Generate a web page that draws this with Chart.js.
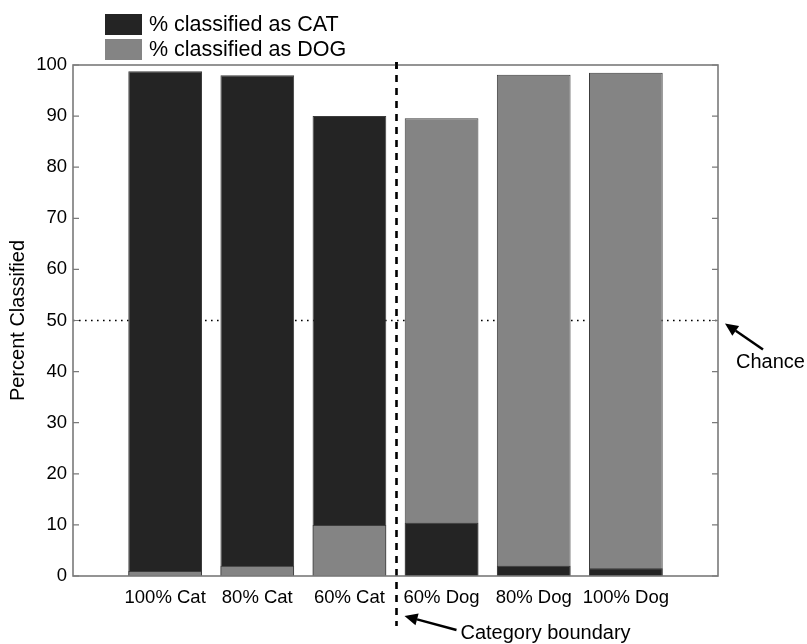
<!DOCTYPE html>
<html>
<head>
<meta charset="utf-8">
<script src="https://cdn.jsdelivr.net/npm/chart.js@4/dist/chart.umd.min.js"></script>
<style>
  html, body { margin: 0; padding: 0; background: #fff; }
  #wrap { width: 807px; height: 644px; position: relative; }
</style>
</head>
<body>
<div id="wrap"><canvas id="c" width="807" height="644"></canvas></div>
<script>
const categories = ['100% Cat', '80% Cat', '60% Cat', '60% Dog', '80% Dog', '100% Dog'];
const catPct = [98.8, 98.0, 90.0, 10.4, 2.0, 1.5];
const dogPct = [1.0, 2.0, 10.0, 89.6, 98.1, 98.5];
const yTicks = [0, 10, 20, 30, 40, 50, 60, 70, 80, 90, 100];
const seriesLabels = ['% classified as CAT', '% classified as DOG'];
const chanceLevel = 50;
const boundaryPos = 3.5;

const CAT_COLOR = '#242424';
const DOG_COLOR = '#848484';
const FONT = "'Liberation Sans', Arial, Helvetica, sans-serif";

function pts(values, other, front) {
  const out = [];
  values.forEach((v, i) => {
    const isFront = v < other[i];
    if (isFront === front) out.push({ x: i + 1, y: v });
  });
  return out;
}

const datasets = [
  { label: seriesLabels[0], data: pts(catPct, dogPct, false), backgroundColor: CAT_COLOR, order: 1 },
  { label: seriesLabels[1], data: pts(dogPct, catPct, false), backgroundColor: DOG_COLOR, order: 1 },
  { label: seriesLabels[0], data: pts(catPct, dogPct, true), backgroundColor: CAT_COLOR, order: 0 },
  { label: seriesLabels[1], data: pts(dogPct, catPct, true), backgroundColor: DOG_COLOR, order: 0 }
].map(d => Object.assign(d, {
  grouped: false,
  borderColor: '#3c3c3c',
  borderWidth: 1,
  barPercentage: 0.8,
  categoryPercentage: 1.0
}));

function arrow(ctx, x1, y1, x2, y2) {
  const ang = Math.atan2(y2 - y1, x2 - x1);
  const hl = 13, hw = 6;
  const bx = x2 - hl * Math.cos(ang), by = y2 - hl * Math.sin(ang);
  ctx.save();
  ctx.strokeStyle = '#000';
  ctx.fillStyle = '#000';
  ctx.lineWidth = 2.5;
  ctx.setLineDash([]);
  ctx.beginPath();
  ctx.moveTo(x1, y1);
  ctx.lineTo(bx, by);
  ctx.stroke();
  ctx.beginPath();
  ctx.moveTo(x2, y2);
  ctx.lineTo(bx + hw * Math.sin(ang), by - hw * Math.cos(ang));
  ctx.lineTo(bx - hw * Math.sin(ang), by + hw * Math.cos(ang));
  ctx.closePath();
  ctx.fill();
  ctx.restore();
}

const decor = {
  id: 'decor',
  beforeDatasetsDraw(chart) {
    const { ctx, chartArea: a, scales: { x, y } } = chart;
    ctx.save();
    const yc = y.getPixelForValue(chanceLevel);
    ctx.strokeStyle = '#000';
    ctx.lineWidth = 1.6;
    ctx.setLineDash([1.6, 4.4]);
    ctx.beginPath();
    ctx.moveTo(a.left, yc);
    ctx.lineTo(a.right, yc);
    ctx.stroke();
    const xb = x.getPixelForValue(boundaryPos) + 1;
    ctx.lineWidth = 2.6;
    ctx.setLineDash([7, 6]);
    ctx.beginPath();
    ctx.moveTo(xb, a.top - 3);
    ctx.lineTo(xb, a.bottom + 50);
    ctx.stroke();
    ctx.restore();
  },
  afterDraw(chart) {
    const { ctx, chartArea: a, scales: { x, y } } = chart;
    ctx.save();
    ctx.strokeStyle = '#7a7a7a';
    ctx.lineWidth = 1.6;
    ctx.setLineDash([]);
    ctx.strokeRect(a.left, a.top, a.right - a.left, a.bottom - a.top);
    ctx.lineWidth = 1.2;
    yTicks.forEach(v => {
      const py = y.getPixelForValue(v);
      ctx.beginPath();
      ctx.moveTo(a.left, py); ctx.lineTo(a.left + 6, py);
      ctx.moveTo(a.right, py); ctx.lineTo(a.right - 6, py);
      ctx.stroke();
    });
    const xb = x.getPixelForValue(boundaryPos) + 1;
    ctx.strokeStyle = '#000';
    ctx.lineWidth = 2.6;
    ctx.beginPath();
    ctx.moveTo(xb, a.top - 3);
    ctx.lineTo(xb, a.top + 4);
    ctx.stroke();

    const yc = y.getPixelForValue(chanceLevel);
    arrow(ctx, a.right + 45, yc + 29, a.right + 7, yc + 3);
    ctx.fillStyle = '#000';
    ctx.font = '20px ' + FONT;
    ctx.textBaseline = 'middle';
    ctx.textAlign = 'left';
    ctx.fillText('Chance', a.right + 18, yc + 42);

    arrow(ctx, xb + 60, a.bottom + 54, xb + 8, a.bottom + 40);
    ctx.fillText('Category boundary', xb + 64, a.bottom + 57);

    const items = [[seriesLabels[0], CAT_COLOR, 14], [seriesLabels[1], DOG_COLOR, 39]];
    ctx.font = '21.5px ' + FONT;
    items.forEach(([t, c, top]) => {
      ctx.fillStyle = c;
      ctx.fillRect(105, top, 37, 21);
      ctx.fillStyle = '#000';
      ctx.fillText(t, 149, top + 11);
    });
    ctx.restore();
  }
};

new Chart(document.getElementById('c'), {
  type: 'bar',
  data: { datasets },
  options: {
    responsive: false,
    animation: false,
    devicePixelRatio: 1,
    layout: { padding: { top: 65, right: 89, left: 0, bottom: 0 } },
    plugins: { legend: { display: false }, tooltip: { enabled: false } },
    scales: {
      x: {
        type: 'linear',
        min: 0, max: 7,
        offset: false,
        grid: { display: false, drawTicks: false },
        border: { display: false },
        afterBuildTicks: s => { s.ticks = categories.map((c, i) => ({ value: i + 1 })); },
        afterFit: s => { s.height = 68; },
        ticks: {
          autoSkip: false, maxRotation: 0, padding: 11,
          color: '#000',
          font: { family: FONT, size: 18.5 },
          callback: v => categories[v - 1] || ''
        }
      },
      y: {
        min: 0, max: 100,
        grid: { display: false, drawTicks: false },
        border: { display: false },
        afterBuildTicks: s => { s.ticks = yTicks.map(v => ({ value: v })); },
        afterFit: s => { s.width = 73; },
        ticks: { padding: 6, color: '#000', font: { family: FONT, size: 18.5 } },
        title: {
          display: true, text: 'Percent Classified', color: '#000',
          font: { family: FONT, size: 20 }, padding: { top: 6, bottom: 0 }
        }
      }
    }
  },
  plugins: [decor]
});
</script>
</body>
</html>
